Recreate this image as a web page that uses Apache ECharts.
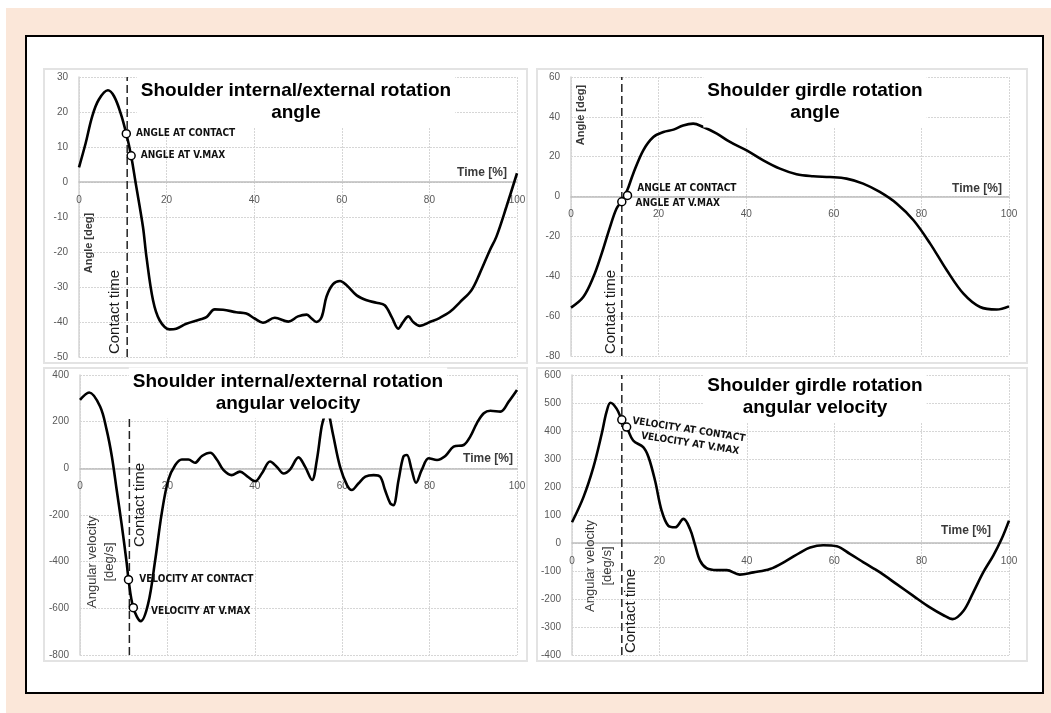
<!DOCTYPE html>
<html>
<head>
<meta charset="utf-8">
<script src="https://cdn.jsdelivr.net/npm/echarts@6/dist/echarts.min.js"></script>
<style>
html,body{margin:0;padding:0;background:#fff;}
#bg{position:absolute;left:6px;top:8px;width:1045px;height:705px;background:#fbe7d9;}
#box{position:absolute;left:25px;top:35px;width:1019px;height:659px;box-sizing:border-box;border:2px solid #000;background:#fff;}
.pn{position:absolute;box-sizing:border-box;border:2px solid #e3e3e3;}
#c{position:absolute;left:0;top:0;width:1051px;height:713px;}
</style>
</head>
<body>
<div id="bg"></div>
<div id="box"></div>
<div class="pn" style="left:43px;top:68px;width:485px;height:296px"></div>
<div class="pn" style="left:536px;top:68px;width:492px;height:296px"></div>
<div class="pn" style="left:43px;top:367px;width:485px;height:295px"></div>
<div class="pn" style="left:536px;top:367px;width:492px;height:295px"></div>
<div id="c"></div>
<script>
// ---------- DATA ----------
// Shoulder internal/external rotation angle
const ierAngleT = [0,1.5,3,4.5,6.6,8,9.5,10.8,11.9,12.9,14.6,15.4,16.9,18.4,20.7,22.2,24.5,27.6,29.1,31,32.9,35.9,38.2,40.1,42,44.7,47.8,50,52,53.1,54.2,55.4,56.5,58,59.6,61.1,63.4,65.7,67.9,69.8,71.4,72.9,74,75.2,76.3,77.8,80.1,82.4,84.7,87,89.6,91.5,93.8,95.3,97.6,100];
const ierAngleV = [4.2,11,18.7,23.5,26.2,24.5,19.7,13.8,7.5,0,-12.8,-21.4,-33.8,-39.5,-42.1,-41.9,-40.5,-39.3,-38.6,-36.4,-36.5,-37.2,-37.6,-39,-40.2,-38.8,-39.9,-38.4,-37.9,-39,-40,-38.6,-32.8,-29.2,-28.3,-29.5,-32.4,-33.8,-34.5,-35.2,-38.6,-41.9,-40,-38.4,-40,-41.1,-40,-38.8,-37.1,-34.3,-30.9,-26.1,-19.5,-15.6,-7,2.5];
// Shoulder girdle rotation angle
const sgAngleT = [0,2.8,5.1,7,8.9,10.4,11.6,12.9,14.2,16.5,18.8,21.1,23.4,25.6,27.9,30.2,33.3,36.3,40.1,43.9,47.7,51.5,55.3,59.1,62.9,66.7,70.5,74.4,78.2,82,85.8,89.6,93.4,97.2,100];
const sgAngleV = [-55.7,-50.4,-40.4,-28.6,-15.3,-6,-2.2,3.5,11.5,23.2,29.9,32.4,33.6,35.7,36.6,34.9,31.6,27.4,23.2,18.2,14,11.2,10.2,9.8,9,6.5,2.3,-3.6,-11.9,-23.6,-37,-48.7,-55.4,-56.7,-55.1];
// Shoulder internal/external rotation angular velocity
const ierVelT = [0,2.1,4.6,6.1,7.3,8.4,9.5,10.7,11.1,12.2,13.9,15.6,17.2,18.7,20.2,21.8,23.3,24.8,26.3,27.9,29.8,31.3,32.8,34.7,36.6,38.2,40.1,41.6,43.5,45,46.6,48.1,50,51.5,53.1,54.2,55.3,56.1,56.6,57.1,58,59.5,61.1,62.2,63.7,65.3,67.2,68.7,69.8,71,71.7,72.9,74,74.8,75.9,76.9,78.2,79.8,81.7,83.6,85.5,87.8,89.3,90.8,92.4,93.9,96.2,98.1,100];
const ierVelV = [293,325,265,165,50,-93,-236,-408,-477,-597,-655,-580,-394,-193,-50,14,38,38,24,53,67,38,-7,-29,-14,-33,-55,-22,29,7,-22,-4,47,7,-50,36,179,235,265,222,136,7,-72,-93,-65,-36,-29,-36,-93,-150,-158,-50,50,57,-7,-62,-7,43,36,53,93,100,136,193,236,247,243,286,336];
// Shoulder girdle rotation angular velocity
const sgVelT = [0,2.6,4.9,6.8,7.9,8.8,10.2,11.4,12.5,14,16.3,17.5,19,20.5,22,23.6,25.5,27,28.1,29.3,30.8,33.1,35.4,38.4,41.5,45.3,49.1,52.2,54.5,57.5,60.6,63.6,66.7,70.5,74.3,78.1,81.9,85,87.1,89.6,91.8,94.1,96.4,98.3,100];
const sgVelV = [74,163,271,390,468,501,480,440,414,366,342,307,223,116,62,56,86,50,-4,-63,-90,-97,-97,-113,-105,-93,-63,-34,-16,-8,-12,-39,-69,-105,-147,-189,-230,-258,-272,-242,-177,-105,-45,14,80];

// Event markers
const angleMarkLabels = ['ANGLE AT CONTACT','ANGLE AT V.MAX'];
const velMarkLabels = ['VELOCITY AT CONTACT','VELOCITY AT V.MAX'];
const ierAngleMarkT = [10.8,11.9], ierAngleMarkV = [13.8,7.5];
const sgAngleMarkT = [12.9,11.6],  sgAngleMarkV = [0.6,-2.6];
const ierVelMarkT = [11.1,12.2],   ierVelMarkV = [-477,-597];
const sgVelMarkT = [11.4,12.5],    sgVelMarkV = [440,414];

// Contact time line (x) and its vertical extent
const contactT = [11,11.6,11.3,11.4];
const contactTop = [30,60,220,600];
const contactBottom = [-50,-80,-800,-400];

// Axes
const xMin = 0, xMax = 100, xStep = 20;
const yMin = [-50,-80,-800,-400];
const yMax = [30,60,400,600];
const yStep = [10,20,200,100];

// Texts
const panelTitles = ['Shoulder internal/external rotation\nangle','Shoulder girdle rotation\nangle','Shoulder internal/external rotation\nangular velocity','Shoulder girdle rotation\nangular velocity'];
const yNames = ['Angle [deg]','Angle [deg]','Angular velocity\n[deg/s]','Angular velocity\n[deg/s]'];
const xName = 'Time [%]';
const contactName = 'Contact time';

// ---------- LAYOUT ----------
const grids = [
  {left:79, top:77, width:438, height:280},
  {left:571, top:77, width:438, height:279},
  {left:80, top:375, width:437, height:280},
  {left:572, top:375, width:437, height:280}
];
const curves = [[ierAngleT,ierAngleV],[sgAngleT,sgAngleV],[ierVelT,ierVelV],[sgVelT,sgVelV]];
const marks = [[ierAngleMarkT,ierAngleMarkV,angleMarkLabels],[sgAngleMarkT,sgAngleMarkV,angleMarkLabels],[ierVelMarkT,ierVelMarkV,velMarkLabels],[sgVelMarkT,sgVelMarkV,velMarkLabels]];
const markLabelStyle = [
  [{offset:[0,0]},{offset:[0,0]}],
  [{offset:[0,-7]},{offset:[4,2]}],
  [{offset:[1,0]},{offset:[8,4]}],
  [{offset:[1,1],rotate:-9},{offset:[6,8],rotate:-9}]
];
const titlePos = [[296,102],[815,102],[288,393],[815,397]];
const contactPos = [[115,312],[611,312],[140,505],[631,611]];
const yNamePos = [[89,243],[581,115],[101,562],[599,566]];
const xNamePos = [[482,173],[977,189],[488,459],[966,531]];

const FONT = '"Liberation Sans", Arial, sans-serif';
const NARROW = '"Liberation Sans Narrow", "Arial Narrow", "DejaVu Sans Condensed", sans-serif';

const xAxes = [], yAxes = [], series = [], graphics = [];
for (let i = 0; i < 4; i++) {
  // move the x axis (line + labels) up to the y = 0 level of its grid
  const zeroOffset = -grids[i].height * (0 - yMin[i]) / (yMax[i] - yMin[i]);
  xAxes.push({
    type:'value', gridIndex:i, min:xMin, max:xMax, interval:xStep,
    position:'bottom', offset:zeroOffset,
    axisLine:{show:true, onZero:false, lineStyle:{color:'#bdbdbd', width:1.5}},
    axisTick:{show:false},
    axisLabel:{color:'#595959', fontSize:10, fontFamily:FONT, margin:13},
    splitLine:{show:true, lineStyle:{color:'#d6d6d6', width:1, type:[2,1]}}
  });
  yAxes.push({
    type:'value', gridIndex:i, min:yMin[i], max:yMax[i], interval:yStep[i],
    axisLine:{show:true, onZero:false, lineStyle:{color:'#d4d4d4', width:1.5}},
    axisTick:{show:false},
    axisLabel:{color:'#595959', fontSize:10, fontFamily:FONT, margin:11},
    splitLine:{show:true, lineStyle:{color:'#d6d6d6', width:1, type:[2,1]}}
  });
  const [ts, vs] = curves[i];
  series.push({
    type:'line', xAxisIndex:i, yAxisIndex:i, smooth:0.35, showSymbol:false, z:3,
    lineStyle:{color:'#000', width:2.6},
    data: ts.map((t,k) => [t, vs[k]])
  });
  series.push({
    type:'line', xAxisIndex:i, yAxisIndex:i, showSymbol:false, z:2,
    lineStyle:{color:'#222', width:1.5, type:[8,4]},
    data:[[contactT[i], contactBottom[i]],[contactT[i], contactTop[i]]]
  });
  const [mt, mv, ml] = marks[i];
  series.push({
    type:'scatter', xAxisIndex:i, yAxisIndex:i, symbol:'circle', symbolSize:8, z:5,
    itemStyle:{color:'#fff', borderColor:'#000', borderWidth:1.5, opacity:1},
    label:{show:true, position:'right', distance:5, color:'#111', fontSize:10, fontWeight:'bold', fontFamily:NARROW,
      formatter: p => ml[p.dataIndex]},
    data: mt.map((t,k) => ({value:[t, mv[k]], label:markLabelStyle[i][k]}))
  });
  graphics.push({
    type:'text', x:titlePos[i][0], y:titlePos[i][1], z:100,
    style:{text:panelTitles[i], font:'bold 19px ' + FONT, fill:'#000', align:'center', verticalAlign:'middle',
      lineHeight:22, backgroundColor:'#fff', padding:[5,4,2,4]}
  });
  graphics.push({
    type:'text', x:contactPos[i][0], y:contactPos[i][1], rotation:Math.PI/2, z:50,
    style:{text:contactName, font:'15px ' + FONT, fill:'#1a1a1a', align:'center', verticalAlign:'middle'}
  });
  const twoLine = yNames[i].indexOf('\n') >= 0;
  graphics.push({
    type:'text', x:yNamePos[i][0], y:yNamePos[i][1], rotation:Math.PI/2, z:50,
    style:{text:yNames[i], font:(twoLine ? '13px ' : 'bold 11px ') + FONT, fill:'#3a3a3a', align:'center', verticalAlign:'middle', lineHeight:17}
  });
  graphics.push({
    type:'text', x:xNamePos[i][0], y:xNamePos[i][1], z:50,
    style:{text:xName, font:'bold 12px ' + FONT, fill:'#3a3a3a', align:'center', verticalAlign:'middle'}
  });
}

const chart = echarts.init(document.getElementById('c'), null, {renderer:'canvas'});
chart.setOption({
  animation:false,
  backgroundColor:'transparent',
  grid:grids,
  xAxis:xAxes,
  yAxis:yAxes,
  series:series,
  graphic:graphics
});
</script>
</body>
</html>
